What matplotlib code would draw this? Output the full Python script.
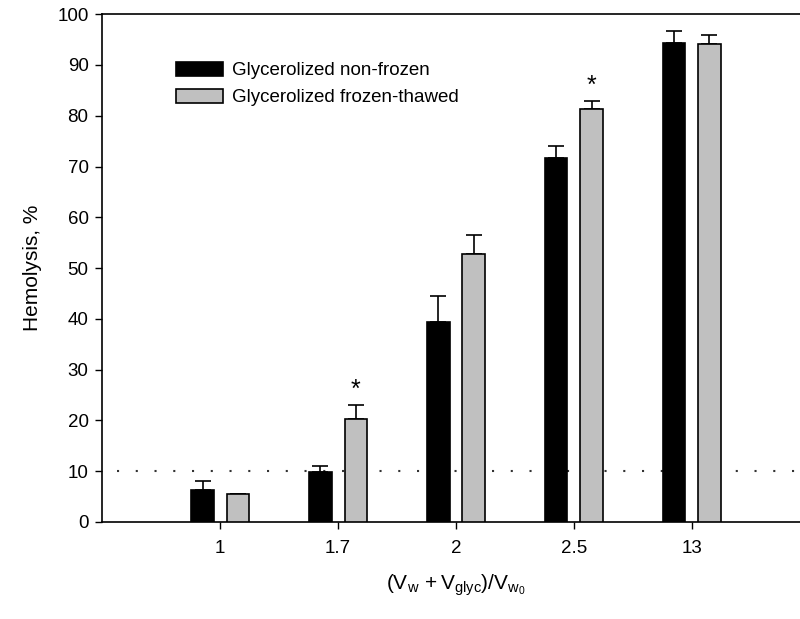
import matplotlib
matplotlib.use("Agg")
import matplotlib.pyplot as plt
import numpy as np

plt.rcParams['font.family'] = ['Liberation Sans', 'DejaVu Sans']
plt.rcParams['mathtext.fontset'] = 'custom'
plt.rcParams['mathtext.rm'] = 'Liberation Sans'
plt.rcParams['mathtext.it'] = 'Liberation Sans'

# volume ratio groups
ratios = ['1', '1.7', '2', '2.5', '13']
non_frozen = [6.2, 9.8, 39.4, 71.7, 94.4]
non_frozen_err = [1.8, 1.2, 5.0, 2.3, 2.3]
frozen_thawed = [5.5, 20.3, 52.8, 81.3, 94.2]
frozen_thawed_err = [0.0, 2.8, 3.8, 1.6, 1.7]
significant = [False, True, False, True, False]  # frozen-thawed vs non-frozen
threshold = 10

BAR_W = 0.19
OFFSET = 0.15
FS = 13.5

fig = plt.figure(figsize=(8, 6.19), dpi=100)
ax = fig.add_axes([0.128, 0.157, 1.012 - 0.128, 0.977 - 0.157])

x = np.arange(1, len(ratios) + 1)
ax.bar(x - OFFSET, non_frozen, BAR_W, color='black', edgecolor='black',
       linewidth=1.2, label='Glycerolized non-frozen', zorder=3)
ax.bar(x + OFFSET, frozen_thawed, BAR_W, color='#c0c0c0', edgecolor='black',
       linewidth=1.2, label='Glycerolized frozen-thawed', zorder=3)

err_kw = dict(fmt='none', ecolor='black', elinewidth=1.2, capsize=5.8,
              capthick=1.2, zorder=2)
ax.errorbar(x - OFFSET, non_frozen, yerr=[np.zeros(len(x)), non_frozen_err], **err_kw)
ax.errorbar(x + OFFSET, frozen_thawed, yerr=[np.zeros(len(x)), frozen_thawed_err], **err_kw)

for xi, v, e, s in zip(x, frozen_thawed, frozen_thawed_err, significant):
    if s:
        ax.annotate('*', (xi + OFFSET, v + e), xytext=(0, 2), textcoords='offset points',
                    ha='center', va='bottom', fontsize=18)

ax.axhline(threshold, xmin=0.02, color='#333333', linestyle=(0, (1, 8)),
           linewidth=1.5, zorder=1)

ax.set_xlim(0, 6)
ax.set_ylim(0, 100)
ax.set_xticks(x)
ax.set_xticklabels(ratios)
ax.set_yticks(np.arange(0, 101, 10))
ax.tick_params(direction='out', length=5, width=1, labelsize=FS, pad=8)
ax.tick_params(axis='y', pad=5)
for sp in ax.spines.values():
    sp.set_linewidth(1.2)

ax.set_ylabel('Hemolysis, %', fontsize=15, labelpad=11)
ax.set_xlabel(r'$\mathrm{(V_w\,+V_{glyc})/V_{w_0}}$', fontsize=15, labelpad=11)

ax.legend(loc='upper left', bbox_to_anchor=(0.08, 0.94), frameon=False,
          fontsize=FS, handlelength=2.5, handleheight=0.8, labelspacing=0.5,
          handletextpad=0.5)

fig.savefig('out.png', dpi=100)
